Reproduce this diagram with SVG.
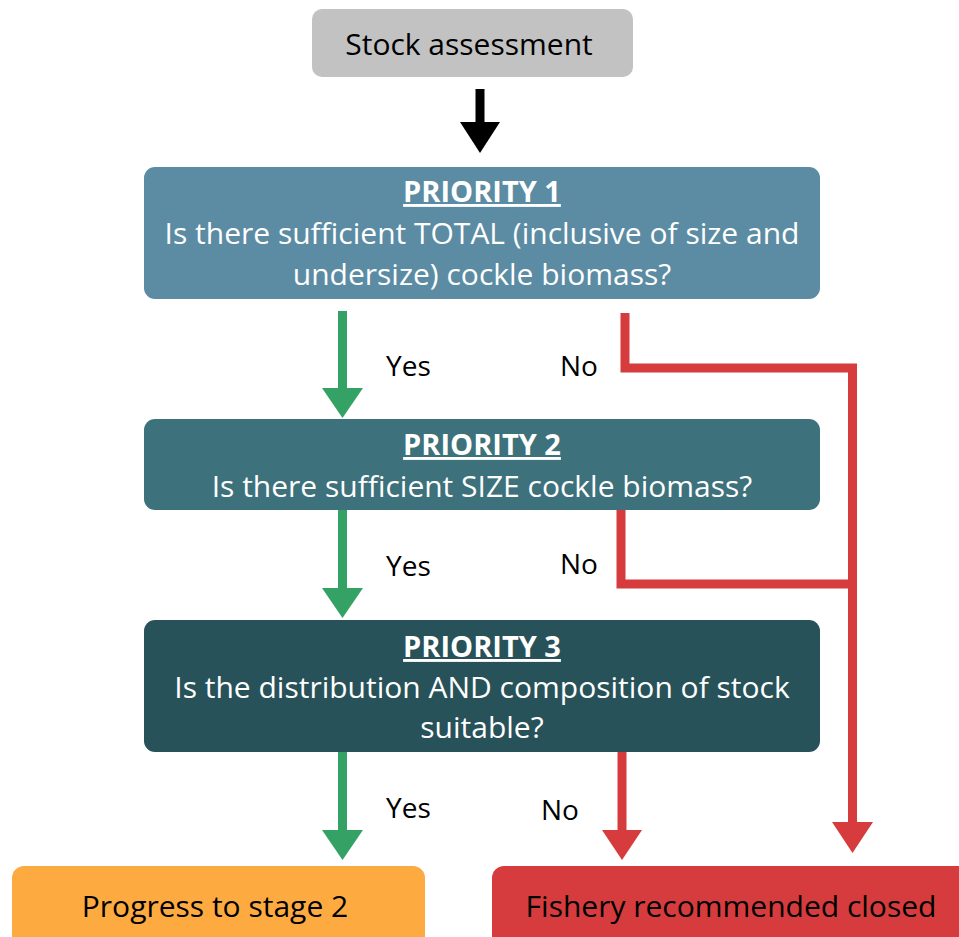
<svg xmlns="http://www.w3.org/2000/svg" width="959" height="937" viewBox="0 0 959 937">
<style>
text{font-family:"Open Sans","Noto Sans","Liberation Sans",sans-serif;font-size:30px;text-anchor:middle}
.w{fill:#ffffff}
.k{fill:#000000}
.h{font-weight:bold;text-decoration:underline;font-size:29px}
.lbl{font-size:28px;text-anchor:start;fill:#000}
.g{stroke:#35a265;stroke-width:9;fill:none}
.r{stroke:#d63c3d;stroke-width:9;fill:none}
</style>
<rect width="959" height="937" fill="#ffffff"/>
<g id="connectors">
<line x1="480" y1="89" x2="480" y2="124" stroke="#000" stroke-width="9"/>
<polygon points="460,122 500,122 480,153" fill="#000"/>
<line class="g" x1="342.5" y1="311" x2="342.5" y2="390"/>
<polygon points="322,388 363,388 342.5,418" fill="#35a265"/>
<line class="g" x1="342.5" y1="510" x2="342.5" y2="590"/>
<polygon points="322,588 363,588 342.5,618" fill="#35a265"/>
<line class="g" x1="342.5" y1="752" x2="342.5" y2="832"/>
<polygon points="322,830 363,830 342.5,860" fill="#35a265"/>
<polyline class="r" points="625,313 625,368 852.5,368 852.5,824"/>
<polyline class="r" points="621,510 621,584 852.5,584"/>
<polygon points="832,822 873,822 852.5,853" fill="#d63c3d"/>
<line class="r" x1="622" y1="752" x2="622" y2="832"/>
<polygon points="602,830 642,830 622,860" fill="#d63c3d"/>
<text class="lbl" x="386" y="376">Yes</text>
<text class="lbl" x="560" y="376">No</text>
<text class="lbl" x="386" y="576">Yes</text>
<text class="lbl" x="560" y="574">No</text>
<text class="lbl" x="386" y="818">Yes</text>
<text class="lbl" x="541" y="820">No</text>
</g>
<g id="stock">
<rect x="312" y="9" width="321" height="68" rx="10" fill="#c2c2c2"/>
<text class="k" x="469" y="55">Stock assessment</text>
</g>
<g id="p1">
<rect x="144" y="167" width="676" height="132" rx="11" fill="#5b8ca3"/>
<text class="w h" x="482" y="202">PRIORITY 1</text>
<text class="w" x="482" y="244">Is there sufficient TOTAL (inclusive of size and</text>
<text class="w" x="482" y="285">undersize) cockle biomass?</text>
</g>
<g id="p2">
<rect x="144" y="419" width="676" height="91" rx="11" fill="#3d717b"/>
<text class="w h" x="482" y="455">PRIORITY 2</text>
<text class="w" x="482" y="497">Is there sufficient SIZE cockle biomass?</text>
</g>
<g id="p3">
<rect x="144" y="620" width="676" height="132" rx="11" fill="#285259"/>
<text class="w h" x="482" y="657">PRIORITY 3</text>
<text class="w" x="482" y="698">Is the distribution AND composition of stock</text>
<text class="w" x="482" y="738">suitable?</text>
</g>
<g id="stage2">
<rect x="12" y="866" width="413" height="90" rx="12" fill="#fdab40"/>
<text class="k" x="215" y="917">Progress to stage 2</text>
</g>
<g id="closed">
<rect x="492" y="866" width="490" height="90" rx="12" fill="#d63c3d"/>
<text class="k" x="731" y="917">Fishery recommended closed</text>
</g>
</svg>
